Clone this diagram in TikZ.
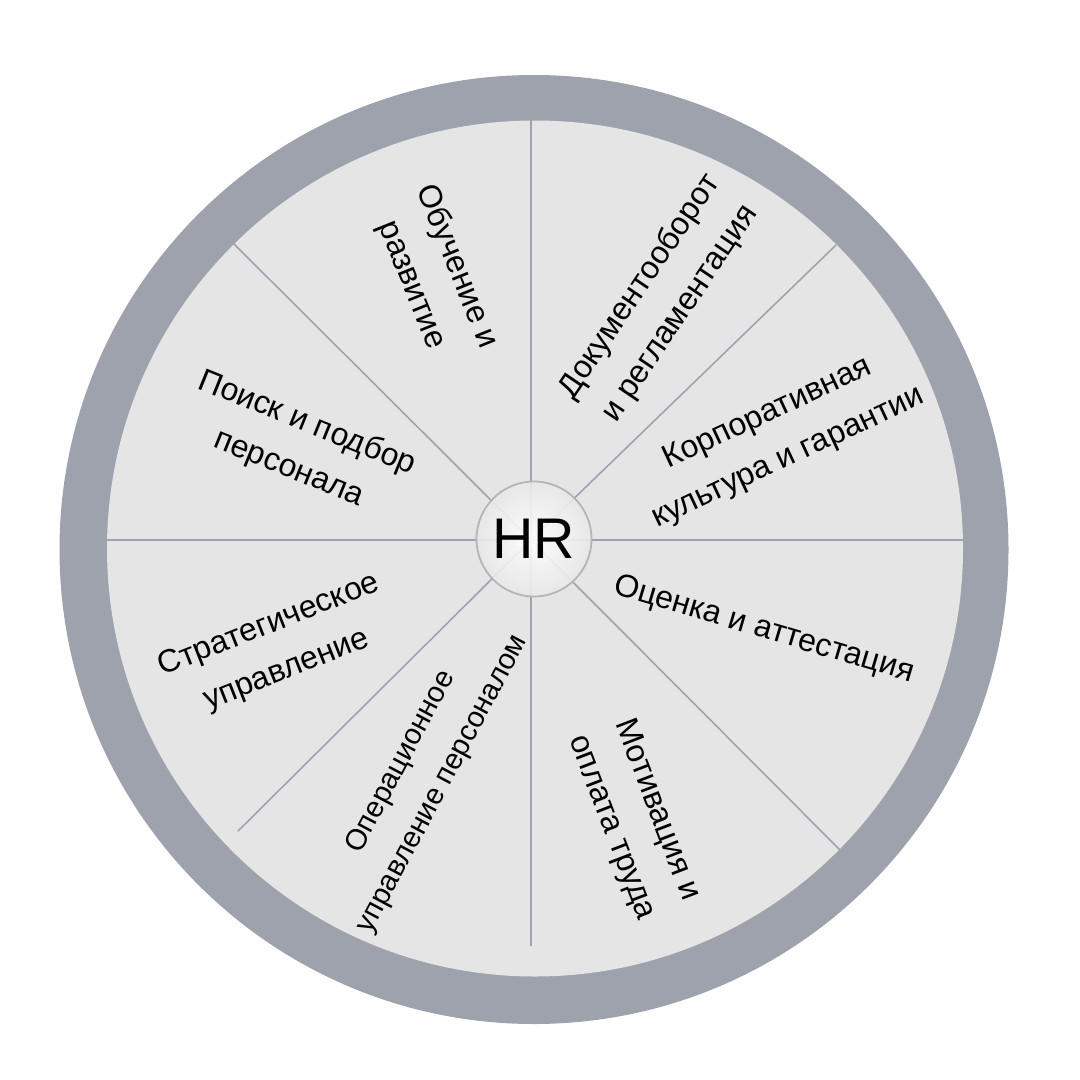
\documentclass[tikz,border=0pt]{standalone}
\usepackage{fontspec}
\setmainfont{Liberation Sans}
\definecolor{ringgray}{HTML}{9EA2AD}
\definecolor{facegray}{HTML}{E5E5E5}
\definecolor{spokegray}{HTML}{9FA2B0}
\definecolor{hubedge}{HTML}{B4B4B4}
\begin{document}
\begin{tikzpicture}[scale=0.1,
  spoke/.style={draw=spokegray, line width=0.45pt},
  sector/.style={align=center, font=\fontsize{9.1}{13.8}\selectfont},
  hublabel/.style={font=\fontsize{16.3}{18}\selectfont}]
\tikzstyle{every node}+=[inner sep=0pt]
\useasboundingbox (0,0) rectangle (108,-108);
% wheel
\fill [ringgray] (53.4,-54.95) circle (47.45);
\fill [facegray] (53.5,-54.85) circle (42.8);
% spokes
\coordinate (hub) at (53.1,-54.0);
\coordinate (n) at (53.1,-12.0);
\coordinate (ne) at (83.6,-24.5);
\coordinate (e) at (96.3,-54.0);
\coordinate (se) at (84.1,-85.1);
\coordinate (s) at (53.1,-94.6);
\coordinate (sw) at (23.8,-83.1);
\coordinate (w) at (10.7,-54.0);
\coordinate (nw) at (23.3,-24.3);
\foreach \p in {n,ne,e,se,s,sw,w,nw}
  \draw [spoke] (hub) -- (\p);
% hub
\shade [inner color=white, outer color=white!91!black, fill opacity=0.9, draw=hubedge, line width=0.5pt] (53.4,-53.9) circle (5.75);
\node [hublabel] (hr) at (53.4,-53.9) {HR};
% labels
\node [sector, rotate=-68] (train) at (43.4,-27.6) {Обучение и\\развитие};
\node [sector, rotate=56] (docs) at (66.0,-30.0) {Документооборот\\и регламентация};
\node [sector, rotate=25] (corp) at (77.8,-43.6) {Корпоративная\\культура и гарантии};
\node [sector, rotate=-16.5] (eval) at (76.4,-63.0) {Оценка и аттестация};
\node [sector, rotate=-69] (pay) at (63.4,-81.9) {Мотивация и\\оплата труда};
\node [sector, rotate=62, font=\fontsize{8.3}{13.4}\selectfont] (oper) at (42.2,-77.3) {Операционное\\управление персоналом};
\node [sector, rotate=21.5] (strat) at (27.8,-64.8) {Стратегическое\\управление};
\node [sector, rotate=-22] (hire) at (29.8,-44.6) {Поиск и подбор\\персонала};
\end{tikzpicture}
\end{document}
